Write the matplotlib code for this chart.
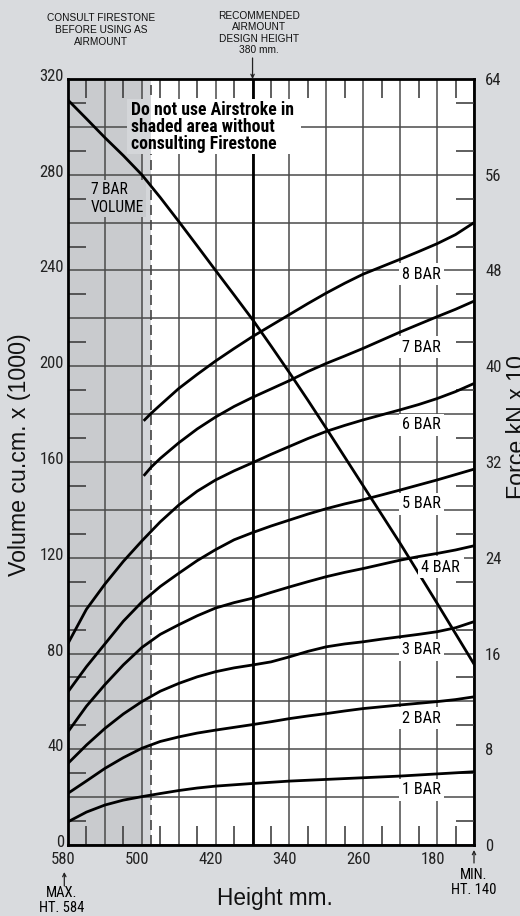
import numpy as np
import matplotlib
matplotlib.use('Agg')
import matplotlib.pyplot as plt
from matplotlib.transforms import ScaledTranslation, blended_transform_factory
from matplotlib.patches import Rectangle, FancyArrowPatch

# force curves, height in mm, force in kN x 10
heights = [580, 560, 540, 520, 500, 480, 460, 440, 420, 400, 380, 360,
           340, 320, 300, 280, 260, 240, 220, 200, 180, 160, 140]
force_1bar = [1.94, 2.75, 3.34, 3.75, 4.04, 4.3, 4.55, 4.76, 4.92, 5.03, 5.14, 5.24,
              5.34, 5.41, 5.48, 5.55, 5.62, 5.69, 5.76, 5.85, 5.94, 6.03, 6.12]
force_2bar = [4.32, 5.35, 6.4, 7.3, 8.08, 8.65, 9.03, 9.35, 9.6, 9.83, 10.06, 10.3,
              10.56, 10.78, 10.98, 11.2, 11.4, 11.55, 11.7, 11.84, 11.98, 12.15, 12.38]
force_3bar = [6.82, 8.35, 9.74, 10.95, 11.98, 12.85, 13.5, 14.05, 14.48, 14.8, 15.04, 15.3,
              15.72, 16.18, 16.56, 16.8, 16.98, 17.2, 17.4, 17.6, 17.82, 18.15, 18.66]
force_4bar = [9.46, 11.6, 13.4, 15.05, 16.5, 17.6, 18.4, 19.15, 19.8, 20.25, 20.62, 21.1,
              21.56, 22.0, 22.42, 22.78, 23.1, 23.45, 23.8, 24.1, 24.36, 24.65, 25.0]
force_5bar = [12.8, 14.9, 16.8, 18.7, 20.3, 21.6, 22.7, 23.76, 24.68, 25.5, 26.1, 26.65,
              27.15, 27.65, 28.1, 28.5, 28.85, 29.25, 29.66, 30.08, 30.5, 30.95, 31.4]
force_6bar = [16.84, 19.7, 21.8, 23.7, 25.4, 27.0, 28.4, 29.56, 30.5, 31.26, 31.94, 32.64,
              33.3, 33.96, 34.56, 35.06, 35.52, 35.94, 36.36, 36.8, 37.3, 37.88, 38.56]
heights_7bar = [498, 490, 480, 460, 440, 420, 400, 380, 360, 340, 320, 300,
                280, 260, 240, 220, 200, 180, 160, 140]
force_7bar = [30.84, 31.56, 32.3, 33.6, 34.76, 35.76, 36.64, 37.4, 38.1, 38.8, 39.56, 40.24,
              40.86, 41.5, 42.18, 42.86, 43.5, 44.14, 44.76, 45.44]
heights_8bar = heights_7bar
force_8bar = [35.44, 36.06, 36.76, 38.14, 39.32, 40.44, 41.48, 42.48, 43.4, 44.32, 45.24, 46.12,
              46.94, 47.7, 48.32, 48.94, 49.58, 50.24, 51.0, 52.0]

# 7 bar volume, cu.cm x 1000
volume_7bar = [311.2, 303.4, 295.5, 288, 280, 270.5, 260.5, 250.3, 240, 229.8, 219.5, 208.5,
               197.3, 185.8, 174, 162, 150, 138, 126, 113.5, 101, 88.3, 75.6]

bar_names = ['1 BAR', '2 BAR', '3 BAR', '4 BAR', '5 BAR', '6 BAR', '7 BAR', '8 BAR']
label_h = [197, 197, 197, 176, 197, 197, 197, 197]
label_f = [4.6, 10.6, 16.3, 23.2, 28.5, 35.1, 41.6, 47.7]

x_ticks = [580, 540, 500, 460, 420, 380, 340, 300, 260, 220, 180, 140]
x_labels = ['580', '', '500', '', '420', '', '340', '', '260', '', '180', '']
y_ticks = np.arange(0, 321, 20)
y_labels = [str(v) if v % 40 == 0 else '' for v in y_ticks]
f_ticks = np.arange(0, 65, 8)

bg = '#d9dbde'
shade = '#c9cbce'
shade2 = '#d4d6d9'
narrow = ['Roboto Condensed', 'Liberation Sans Narrow', 'Liberation Sans', 'DejaVu Sans']
plt.rcParams['font.family'] = ['Liberation Sans', 'DejaVu Sans']

fig = plt.figure(figsize=(5.2, 9.16), dpi=100, facecolor=bg)
ax = fig.add_axes([68/520, 1-845/916, 406/520, 766/916])
ax.set_xlim(580, 140)
ax.set_ylim(0, 320)
ax.set_axisbelow(True)

ax.axvspan(580, 500, color=shade, lw=0, zorder=0.2)
ax.axvspan(500, 490, color=shade2, lw=0, zorder=0.2)
ax.axvline(490, color='#444444', lw=1.2, ls=(0, (6, 3)), zorder=0.7)
ax.axvline(380, color='black', lw=2, zorder=2)

ax.set_xticks(x_ticks)
ax.set_xticklabels(x_labels)
ax.set_xticks(np.arange(140, 581, 20), minor=True)
ax.set_yticks(y_ticks)
ax.set_yticklabels(y_labels)
ax.set_yticks(np.arange(10, 320, 20), minor=True)
ax.grid(True, which='major', color='#4a4a4a', lw=1.1)
ax.tick_params(which='major', length=0, labelsize=12, colors='#222222')
ax.tick_params(axis='x', which='major', pad=5)
ax.tick_params(axis='y', which='major', pad=3)
ax.tick_params(axis='x', which='minor', direction='in', length=14, width=1.1,
               color='#333333', top=True, bottom=True)
ax.tick_params(axis='y', which='minor', direction='in', length=13, width=1.1,
               color='#333333', left=True, right=False)
for lbl in ax.get_xticklabels() + ax.get_yticklabels():
    lbl.set_family(narrow)
off_x = ScaledTranslation(-4.5/100, 0, fig.dpi_scale_trans)
for lbl in ax.get_xticklabels():
    lbl.set_transform(lbl.get_transform() + off_x)
off_y = ScaledTranslation(0, 4/100, fig.dpi_scale_trans)
for lbl in ax.get_yticklabels():
    lbl.set_transform(lbl.get_transform() + off_y)
for s in ax.spines.values():
    s.set_linewidth(2)
    s.set_color('black')

ax.plot(heights, volume_7bar, color='black', lw=2, zorder=4)

# notice box
ax.add_patch(Rectangle((516, 288.5), 327 - 516, 23, facecolor='white', lw=0, zorder=3))
ax.add_patch(Rectangle((516, 288.5), 490 - 516, 23, facecolor=shade2, lw=0, zorder=3.05))
ax.text(511.5, 300, 'Do not use Airstroke in\nshaded area without\nconsulting Firestone',
        family=narrow, weight='bold', fontsize=12.8, ha='left', va='center',
        linespacing=0.95, zorder=3.1)
ax.text(555, 270, '7 BAR\nVOLUME', family=narrow, fontsize=11.2, ha='left', va='center',
        linespacing=1.25, zorder=3,
        bbox=dict(facecolor=shade, edgecolor='none', pad=1.5))

ax2 = ax.twinx()
ax2.set_ylim(0, 64)
ax2.set_frame_on(False)
ax2.set_yticks(f_ticks)
ax2.set_yticks(np.arange(2, 64, 4), minor=True)
ax2.tick_params(which='major', length=0, labelsize=12, pad=8, colors='#222222')
ax2.tick_params(which='minor', direction='in', length=13, width=1.1, color='#333333')
for lbl in ax2.get_yticklabels():
    lbl.set_family(narrow)

curves = [(heights, force_1bar), (heights, force_2bar), (heights, force_3bar),
          (heights, force_4bar), (heights, force_5bar), (heights, force_6bar),
          (heights_7bar, force_7bar), (heights_8bar, force_8bar)]
for (h, f) in curves:
    ax2.plot(h, f, color='black', lw=2, zorder=4, solid_capstyle='butt', solid_joinstyle='round')
for name, h, f in zip(bar_names, label_h, label_f):
    ax2.text(h, f, name, family=narrow, fontsize=11.7, ha='center', va='center', zorder=3,
             bbox=dict(facecolor='white', edgecolor='none', pad=2.5))

# axis titles
fig.text(20/520, 1-455/916, 'Volume cu.cm. x (1000)', rotation=90, ha='center', va='center',
         fontsize=16.7, color='#111111')
fig.text(506/520, 1-427/916, 'Force kN x 10', rotation=90, ha='left', va='center',
         fontsize=16.7, color='#111111')
fig.text(275/520, 1-899/916, 'Height mm.', ha='center', va='center', fontsize=16.3,
         color='#111111')

# top notes
fig.text(101/520, 1-30/916, 'CONSULT FIRESTONE\nBEFORE USING AS\nAIRMOUNT', ha='center',
         va='center', fontsize=7.3, linespacing=1.25, color='#111111')
fig.text(259/520, 1-33/916, 'RECOMMENDED\nAIRMOUNT\nDESIGN HEIGHT\n380 mm.', ha='center',
         va='center', fontsize=7.3, linespacing=1.2, color='#111111')

mixed = blended_transform_factory(ax.transData, fig.transFigure)
arrow_pos = [(380, 58, 79), (584, 886, 872), (140, 863, 850)]
for h, y0, y1 in arrow_pos:
    fig.add_artist(FancyArrowPatch((h, 1 - y0/916), (h, 1 - y1/916), transform=mixed,
                                   arrowstyle='->', mutation_scale=6, lw=0.9,
                                   color='#222222', shrinkA=0, shrinkB=0))

# min / max notes
ax.text(587, 1-900.5/916, 'MAX.\nHT. 584', transform=mixed, ha='center', va='center',
        family=narrow, fontsize=10.5, linespacing=1.1, clip_on=False)
ax.text(140, 1-882.5/916, 'MIN.\nHT. 140', transform=mixed, ha='center', va='center',
        family=narrow, fontsize=10.5, linespacing=1.1, clip_on=False)

fig.savefig('out.png', dpi=100, facecolor=bg)
